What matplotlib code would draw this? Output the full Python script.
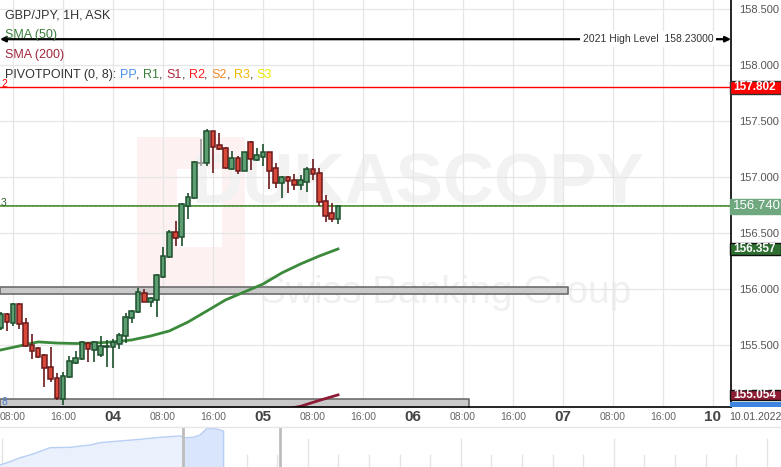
import matplotlib
matplotlib.use("Agg")
import matplotlib.pyplot as plt
from matplotlib.patches import Rectangle
from matplotlib.lines import Line2D

plt.rcParams['font.family'] = ['Liberation Sans', 'DejaVu Sans']

# hourly candles, hour 0 = 04 Jan 00:00
hours = list(range(-18, 37))
opens = [155.649, 155.776, 155.693, 155.866, 155.693, 155.497, 155.470, 155.408, 155.300, 155.202,
         155.020, 155.216, 155.341, 155.377, 155.520, 155.455, 155.410, 155.483, 155.484, 155.508,
         155.580, 155.738, 155.791, 155.961, 155.881, 155.899, 156.104, 156.283, 156.506, 156.461,
         156.743, 156.809, 157.122, 157.122, 157.408, 157.283, 157.256, 157.074, 157.167, 157.056,
         157.309, 157.149, 157.181, 157.220, 157.077, 156.943, 156.997, 156.970, 156.925, 156.958,
         157.068, 157.033, 156.783, 156.675, 156.627]
highs = [155.794, 155.785, 155.874, 155.877, 155.743, 155.598, 155.482, 155.419, 155.482, 155.252,
         155.256, 155.401, 155.446, 155.535, 155.526, 155.531, 155.580, 155.544, 155.550, 155.607,
         155.788, 155.812, 156.006, 156.000, 155.931, 156.133, 156.377, 156.526, 156.607, 156.770,
         156.854, 157.140, 157.339, 157.428, 157.410, 157.390, 157.267, 157.232, 157.187, 157.227,
         157.321, 157.261, 157.294, 157.227, 157.125, 157.008, 157.008, 157.026, 157.015, 157.086,
         157.158, 157.083, 156.836, 156.765, 156.750]
lows = [155.633, 155.627, 155.669, 155.642, 155.482, 155.374, 155.386, 155.127, 155.172, 155.008,
        154.964, 155.209, 155.330, 155.370, 155.350, 155.348, 155.395, 155.300, 155.291, 155.464,
        155.520, 155.699, 155.783, 155.883, 155.836, 155.752, 156.098, 156.276, 156.386, 156.386,
        156.622, 156.803, 157.100, 157.098, 157.033, 157.241, 157.071, 157.062, 157.029, 157.049,
        157.062, 157.142, 157.100, 156.895, 156.904, 156.815, 156.859, 156.883, 156.883, 156.868,
        156.973, 156.741, 156.595, 156.600, 156.583]
closes = [155.779, 155.702, 155.866, 155.684, 155.491, 155.449, 155.395, 155.291, 155.193, 155.029,
          155.225, 155.354, 155.386, 155.524, 155.466, 155.524, 155.493, 155.491, 155.529, 155.591,
          155.747, 155.800, 155.970, 155.886, 155.916, 156.122, 156.291, 156.506, 156.458, 156.756,
          156.818, 157.131, 157.122, 157.408, 157.270, 157.247, 157.077, 157.167, 157.056, 157.220,
          157.158, 157.193, 157.220, 157.056, 156.943, 156.997, 156.961, 156.925, 156.970, 157.068,
          157.024, 156.774, 156.654, 156.625, 156.740]

sma50_hours = [-18, -15, -12, -9, -6, -3, 0, 3, 6, 9, 12, 15, 18, 21, 24, 27, 30, 33, 36]
sma50_vals = [155.455, 155.491, 155.527, 155.517, 155.513, 155.517, 155.527, 155.545, 155.580, 155.625,
              155.705, 155.803, 155.902, 155.973, 156.044, 156.143, 156.223, 156.294, 156.357]
sma200_hours = [28, 30, 33, 36]
sma200_vals = [154.930, 154.952, 155.005, 155.054]

high_2021 = 158.23
r2_level = 157.802
last_price = 156.740
pp_last = 154.950

zone_upper = (155.953, 156.015)
zone_upper_end = 72.8
zone_lower = (154.900, 155.015)
zone_lower_end = 56.9

tick_hours = [-16, -8, 0, 8, 16, 24, 32, 40, 48, 56, 64, 72, 80, 88, 96]
tick_labels = ['08:00', '16:00', '04', '08:00', '16:00', '05', '08:00', '16:00', '06',
               '08:00', '16:00', '07', '08:00', '16:00', '10']
day_labels = ['04', '05', '06', '07', '10']
price_ticks = [155.5, 156.0, 156.5, 157.0, 157.5, 158.0, 158.5]

# navigator overview
nav_pos = [0, 10, 20, 30, 50, 70, 90, 100, 120, 140, 160, 180, 185, 193, 200, 207, 217, 222, 223]
nav_level = [2, 5.3, 9.3, 12, 19.3, 19.7, 22, 24.3, 26, 27.7, 29.7, 31, 29.3, 29.7, 32, 38.7, 38, 36.3, 36.3]

W, H = 781, 467
fig = plt.figure(figsize=(W / 100, H / 100), dpi=100)
ax = fig.add_axes([0, 60 / H, 731 / W, 407 / H])
ax.set_xlim(-18.1, 98.9)
ax.set_ylim(154.946, 158.580)

for s in ['top', 'left']:
    ax.spines[s].set_visible(False)
for s in ['right', 'bottom']:
    ax.spines[s].set_color('black')
    ax.spines[s].set_linewidth(1.2)
    ax.spines[s].set_zorder(6)

ax.set_xticks(tick_hours)
ax.set_xticklabels(tick_labels)
ax.set_yticks(price_ticks)
ax.set_yticklabels([f'{v:.3f}' for v in price_ticks])
ax.yaxis.tick_right()
ax.grid(color='#e6e6e6', lw=0.9)
ax.set_axisbelow(True)
ax.tick_params(axis='y', length=0, pad=6, labelsize=8, labelcolor='#555555')
ax.tick_params(axis='x', length=0, pad=7, labelsize=7.5, labelcolor='#666666')
for lab in ax.get_xticklabels():
    lab.set_verticalalignment('center')
    if lab.get_text() in day_labels:
        lab.set_fontsize(11)
        lab.set_fontweight('bold')
        lab.set_color('#444444')

# watermark / logo
ax.add_patch(Rectangle((137 / W, 1 - 290 / H), 108 / W, 153 / H, transform=fig.transFigure,
                       fc='#fdf1f1', ec='none', zorder=0.1))
ax.add_patch(Rectangle((177 / W, 1 - 247 / H), 45 / W, 78 / H, transform=fig.transFigure,
                       fc='white', ec='none', zorder=0.15))
ax.text(418 / W, 1 - 185 / H, 'DUKASCOPY', transform=fig.transFigure, fontsize=51,
        fontweight='bold', color='#f2f2f2', ha='center', va='center', zorder=0.2)
ax.text(446 / W, 1 - 293 / H, 'Swiss Banking Group', transform=fig.transFigure, fontsize=28,
        color='#f0f0f0', ha='center', va='center', zorder=0.2)

# support zones
ax.fill_between([-18.1, zone_upper_end], zone_upper[0], zone_upper[1], fc='#c9c9c9',
                ec='#6d6d6d', lw=1.2, zorder=2)
ax.fill_between([-18.1, zone_lower_end], zone_lower[0], zone_lower[1], fc='#c9c9c9',
                ec='#6d6d6d', lw=1.2, zorder=2)

# level lines
ax.axhline(r2_level, color='#ff0000', lw=1, zorder=3)
ax.axhline(last_price, color='#2a7a10', lw=1.1, zorder=3)
ax.axhline(last_price + 0.005, color='#7fb06a', lw=0.6, ls=(0, (3, 2)), zorder=3)
ax.annotate('', xy=(-18.1, high_2021), xytext=(98.9, high_2021),
            arrowprops=dict(arrowstyle='<|-|>', color='black', lw=1.6, shrinkA=0, shrinkB=0,
                            mutation_scale=8), zorder=4)
ax.text(85.6, high_2021, '2021 High Level  158.23000', ha='center', va='center', fontsize=7.5,
        color='#333333', zorder=5, bbox=dict(fc='white', ec='none', pad=2))

# moving averages
ax.plot(sma50_hours, sma50_vals, color='#3b8a3b', lw=2, zorder=3)
ax.plot(sma200_hours, sma200_vals, color='#8e1b35', lw=2, zorder=3)

# candles
for h, o, hi, lo, c in zip(hours, opens, highs, lows, closes):
    if c > o:
        fc, ec = '#5c9e72', '#1d4f2c'
    elif c < o:
        fc, ec = '#d9493a', '#6b1a1a'
    else:
        fc, ec = '#aaaaaa', '#999999'
    ax.vlines(h, lo, hi, color=ec, lw=1.2, zorder=4)
    if c == o:
        ax.hlines(o, h - 0.35, h + 0.35, color=ec, lw=1.4, zorder=4)
    else:
        ax.bar(h, abs(c - o), bottom=min(o, c), width=0.75, color=fc, edgecolor=ec, lw=1.1, zorder=5)


def fig_y(price):
    return fig.transFigure.inverted().transform(ax.transData.transform((0, price)))[1]


def price_box(price, text, fc, ec, fs, h_px, bold=True):
    yf = fig_y(price)
    fig.add_artist(Rectangle((730 / W, yf - h_px / H / 2), 51 / W, h_px / H, transform=fig.transFigure,
                             fc=fc, ec=ec, lw=1, zorder=7))
    fig.text(733 / W, yf, text, color='white', fontsize=fs, fontweight='bold' if bold else 'normal',
             va='center', ha='left', zorder=8)


price_box(r2_level, f'{r2_level:.3f}', '#ff0000', '#333333', 8.5, 13)
price_box(last_price, f'{last_price:.3f}', '#6fa77f', '#6fa77f', 9.5, 15, bold=False)
price_box(sma50_vals[-1], f'{sma50_vals[-1]:.3f}', '#2e6e31', '#111111', 8.5, 12)
price_box(sma200_vals[-1], f'{sma200_vals[-1]:.3f}', '#8c1c32', '#111111', 8.5, 10)
yb = fig_y(pp_last)
fig.add_artist(Rectangle((730 / W, 60 / H), 51 / W, yb + 5 / H - 60 / H, transform=fig.transFigure,
                         fc='#3d85e0', ec='none', zorder=6.5))

fig.text(755 / W, 1 - 417 / H, '10.01.2022', fontsize=7.5, color='#555555', ha='center', va='center')

# left side labels
fig.text(1 / W, 1 - 84 / H, '2', fontsize=7.5, color='#ff0000', va='center')
fig.text(1 / W, 1 - 203 / H, '3', fontsize=7.5, color='#2f5f2f', va='center')
fig.text(1 / W, 1 - 402 / H, '8', fontsize=7.5, color='#4a7fd0', va='center', zorder=8)

# legend block
fig.text(5 / W, 1 - 16 / H, 'GBP/JPY, 1H, ASK', fontsize=9, color='#333333', va='center')
fig.text(5 / W, 1 - 35 / H, 'SMA (50)', fontsize=9, color='#3b7d3b', va='center')
fig.text(5 / W, 1 - 55 / H, 'SMA (200)', fontsize=9, color='#a0283c', va='center')
pieces = [('PIVOTPOINT (0, 8): ', '#333333'), ('PP', '#4a90e2'), (', ', '#333333'),
          ('R1', '#3b7d3b'), (', ', '#333333'), ('S1', '#b0283c'), (', ', '#333333'),
          ('R2', '#ff2020'), (', ', '#333333'), ('S2', '#f08a24'), (', ', '#333333'),
          ('R3', '#f2b600'), (', ', '#333333'), ('S3', '#e8e800')]
t = fig.text(5 / W, 1 - 75 / H, pieces[0][0], fontsize=9, color=pieces[0][1], va='center')
for txt, col in pieces[1:]:
    t = ax.annotate(txt, xy=(1, 0), xycoords=t, va='bottom', ha='left',
                    fontsize=9, color=col, annotation_clip=False)

# navigator
nav = fig.add_axes([0, 0, 1, 40 / H])
nav.set_xlim(0, W)
nav.set_ylim(0, 40)
nav.axis('off')
for k in range(26):
    x = 1.7 + 30.6 * k
    nav.plot([x, x], [0, 28 if k % 5 == 0 else 12], color='#e4e4e4', lw=1)
nav.fill_between(nav_pos, nav_level, color='#eaf1fd', zorder=2)
sel = [i for i, p in enumerate(nav_pos) if p >= 183]
nav.fill_between([183] + [nav_pos[i] for i in sel], [29.5] + [nav_level[i] for i in sel],
                 color='#d9e5fb', zorder=2)
nav.plot(nav_pos, nav_level, color='#b9cff5', lw=1, zorder=3)
nav.plot([223, 223], [0, 36.3], color='#b9cff5', lw=1, zorder=3)
nav.axvline(183, color='#bdbdbd', lw=2, zorder=4)
nav.axvline(280, color='#bdbdbd', lw=2, zorder=4)
fig.add_artist(Line2D([0, 1], [40 / H, 40 / H], color='#e6e6e6', lw=1))

fig.savefig('out.png', dpi=100)
